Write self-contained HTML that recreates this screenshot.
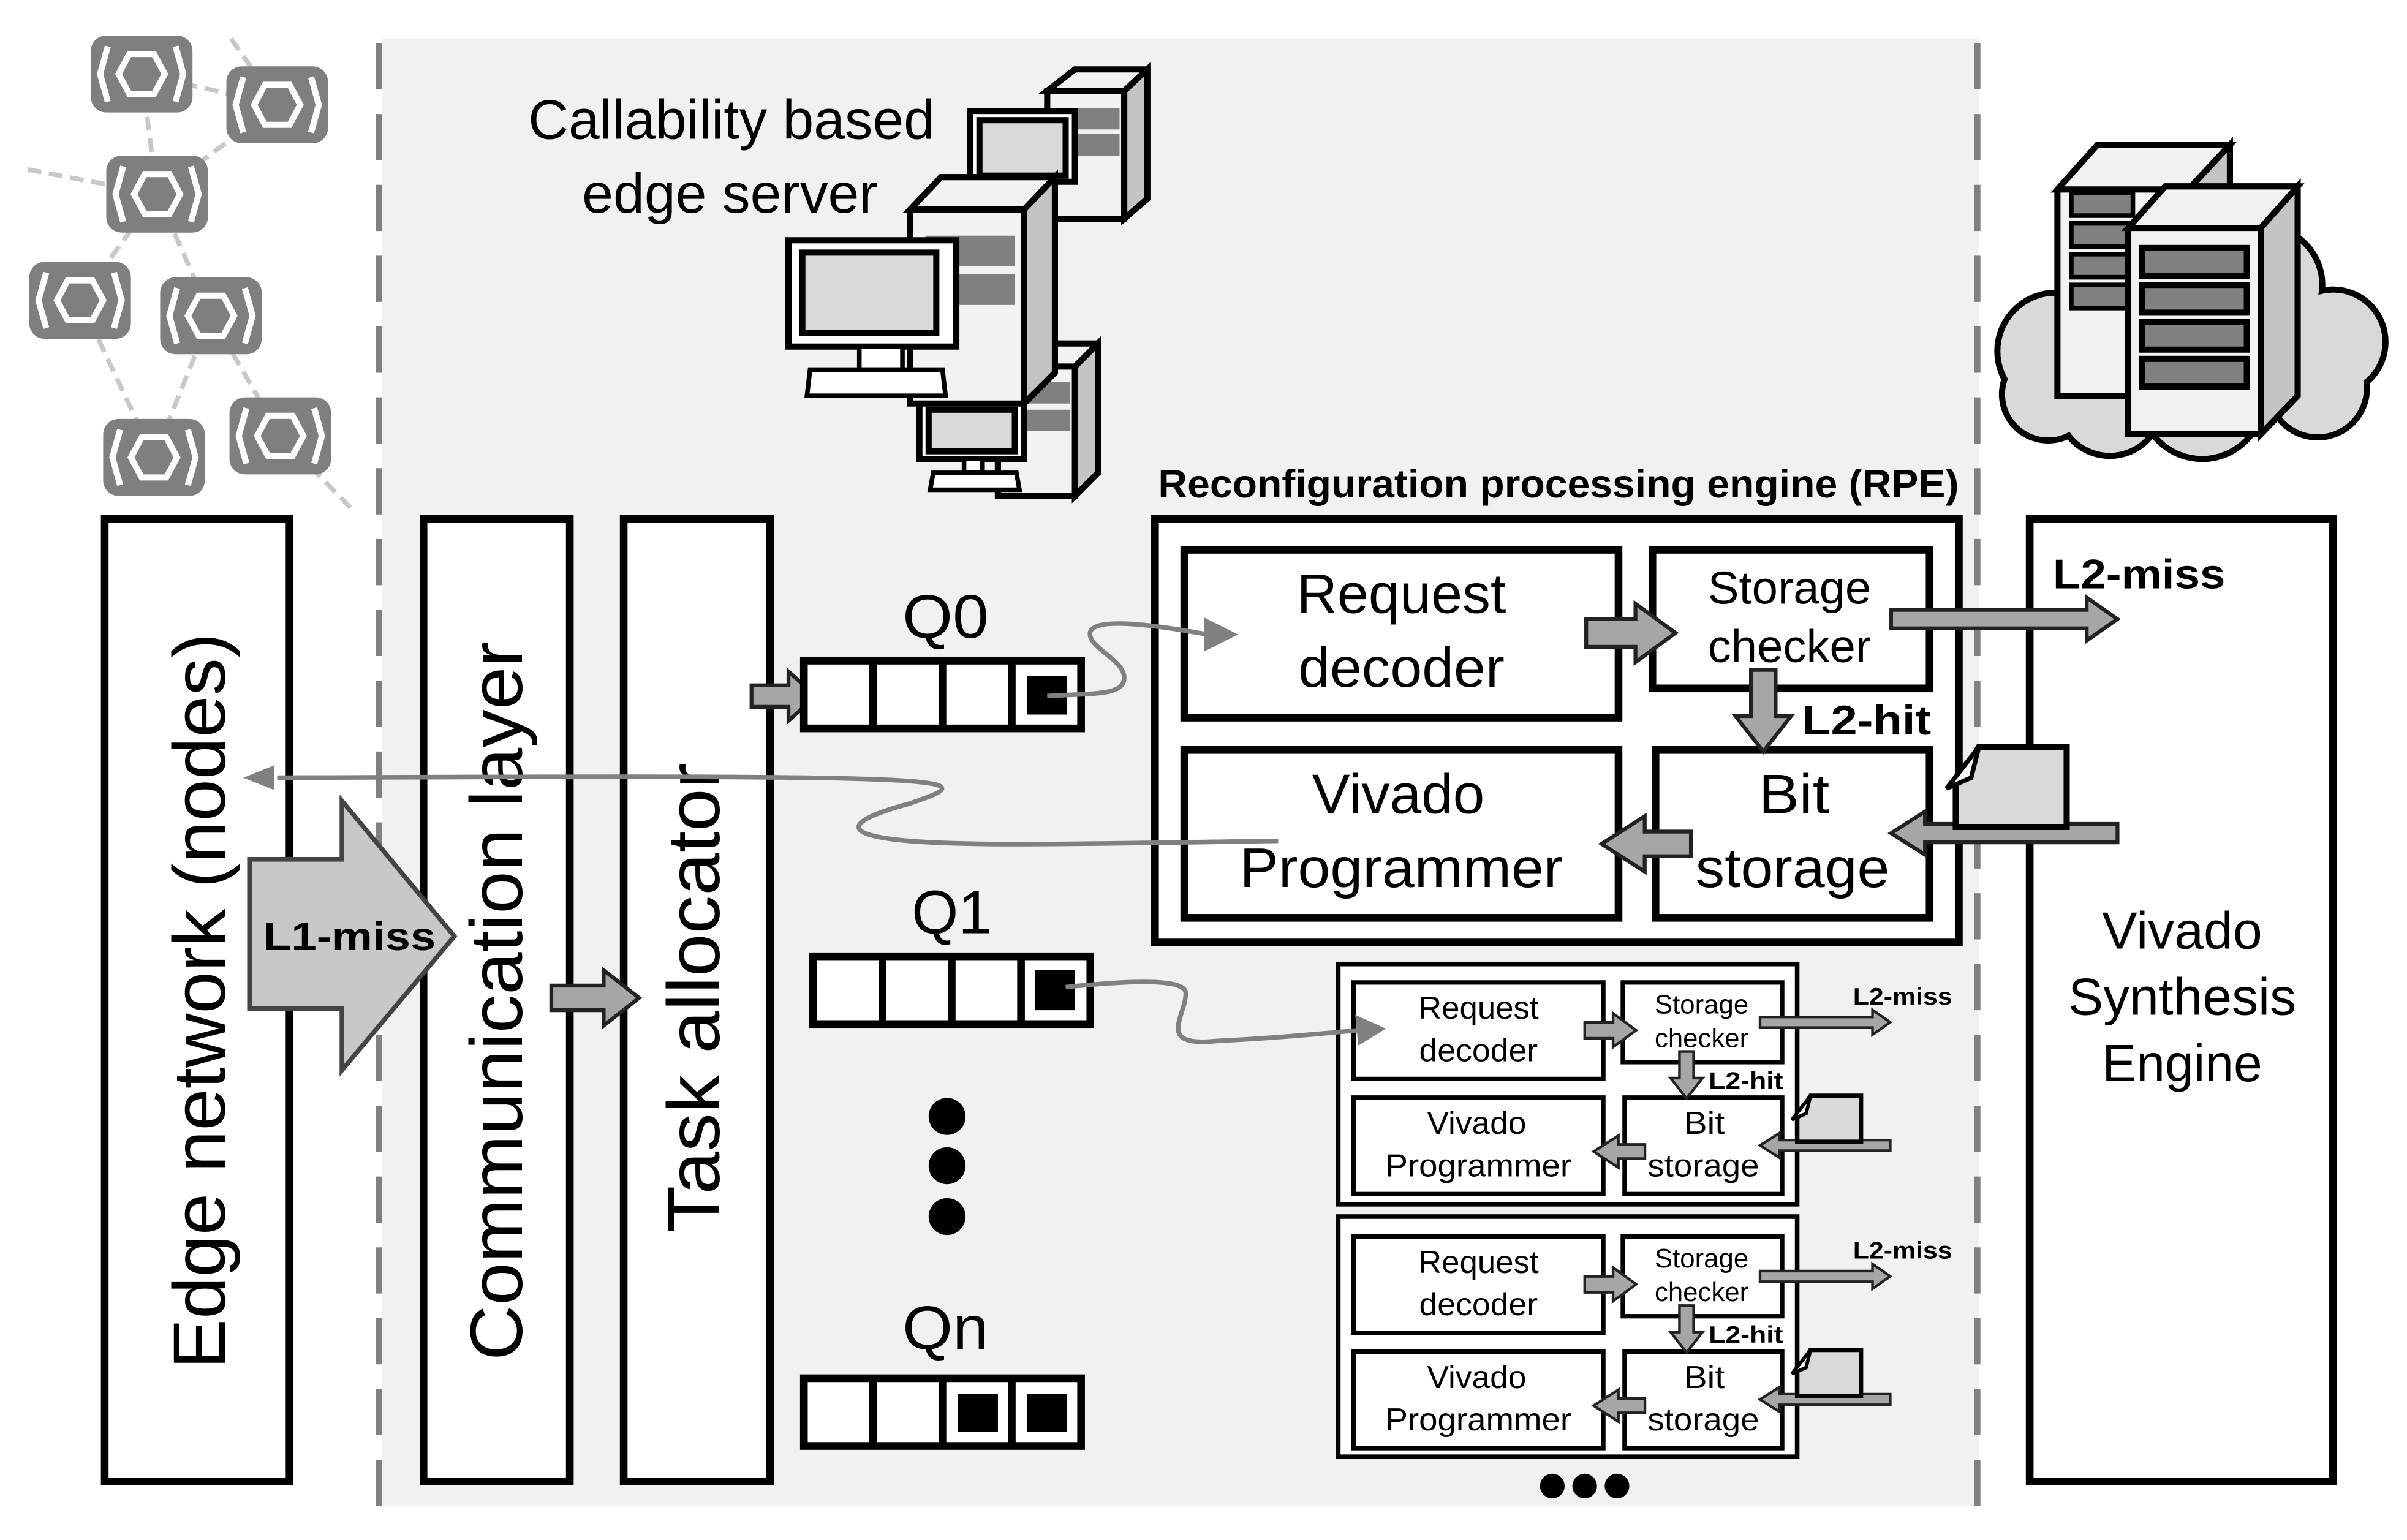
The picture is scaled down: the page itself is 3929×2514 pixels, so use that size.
<!DOCTYPE html>
<html><head><meta charset="utf-8"><style>
html,body{margin:0;padding:0;background:#fff;}
svg{display:block;}
text{font-family:"Liberation Sans",sans-serif;}
</style></head><body>
<svg width="3929" height="2514" viewBox="0 0 1563 1000" xmlns="http://www.w3.org/2000/svg">
<rect x="0" y="0" width="1563" height="1000" fill="#fff"/>
<rect x="248" y="25" width="1037" height="953" fill="#f1f1f1"/>
<line x1="246" y1="28" x2="246" y2="978" stroke="#808080" stroke-width="4" stroke-dasharray="30,16"/>
<line x1="1284" y1="28" x2="1284" y2="978" stroke="#808080" stroke-width="4" stroke-dasharray="30,16"/>

<g stroke="#c8c8c8" stroke-width="3" stroke-dasharray="9,5" fill="none">
<line x1="92" y1="48" x2="102" y2="126"/><line x1="150" y1="25" x2="180" y2="68"/>
<line x1="92" y1="48" x2="180" y2="68"/><line x1="180" y1="68" x2="102" y2="126"/>
<line x1="18" y1="110" x2="102" y2="126"/><line x1="102" y1="126" x2="52" y2="195"/>
<line x1="102" y1="126" x2="137" y2="205"/><line x1="52" y1="195" x2="100" y2="297"/>
<line x1="137" y1="205" x2="100" y2="297"/><line x1="137" y1="205" x2="182" y2="283"/>
<line x1="182" y1="283" x2="228" y2="330"/>
</g>
<g>
<g transform="translate(92,48)"><rect x="-33" y="-25" width="66" height="50" rx="10" fill="#7f7f7f"/><polygon points="-8,-13 8,-13 15,0 8,13 -8,13 -15,0" fill="#7f7f7f" stroke="#fff" stroke-width="4"/><path d="M-22,-18 L-27,0 L-22,18 M22,-18 L27,0 L22,18" stroke="#fff" stroke-width="4" fill="none"/></g>
<g transform="translate(180,68)"><rect x="-33" y="-25" width="66" height="50" rx="10" fill="#7f7f7f"/><polygon points="-8,-13 8,-13 15,0 8,13 -8,13 -15,0" fill="#7f7f7f" stroke="#fff" stroke-width="4"/><path d="M-22,-18 L-27,0 L-22,18 M22,-18 L27,0 L22,18" stroke="#fff" stroke-width="4" fill="none"/></g>
<g transform="translate(102,126)"><rect x="-33" y="-25" width="66" height="50" rx="10" fill="#7f7f7f"/><polygon points="-8,-13 8,-13 15,0 8,13 -8,13 -15,0" fill="#7f7f7f" stroke="#fff" stroke-width="4"/><path d="M-22,-18 L-27,0 L-22,18 M22,-18 L27,0 L22,18" stroke="#fff" stroke-width="4" fill="none"/></g>
<g transform="translate(52,195)"><rect x="-33" y="-25" width="66" height="50" rx="10" fill="#7f7f7f"/><polygon points="-8,-13 8,-13 15,0 8,13 -8,13 -15,0" fill="#7f7f7f" stroke="#fff" stroke-width="4"/><path d="M-22,-18 L-27,0 L-22,18 M22,-18 L27,0 L22,18" stroke="#fff" stroke-width="4" fill="none"/></g>
<g transform="translate(137,205)"><rect x="-33" y="-25" width="66" height="50" rx="10" fill="#7f7f7f"/><polygon points="-8,-13 8,-13 15,0 8,13 -8,13 -15,0" fill="#7f7f7f" stroke="#fff" stroke-width="4"/><path d="M-22,-18 L-27,0 L-22,18 M22,-18 L27,0 L22,18" stroke="#fff" stroke-width="4" fill="none"/></g>
<g transform="translate(100,297)"><rect x="-33" y="-25" width="66" height="50" rx="10" fill="#7f7f7f"/><polygon points="-8,-13 8,-13 15,0 8,13 -8,13 -15,0" fill="#7f7f7f" stroke="#fff" stroke-width="4"/><path d="M-22,-18 L-27,0 L-22,18 M22,-18 L27,0 L22,18" stroke="#fff" stroke-width="4" fill="none"/></g>
<g transform="translate(182,283)"><rect x="-33" y="-25" width="66" height="50" rx="10" fill="#7f7f7f"/><polygon points="-8,-13 8,-13 15,0 8,13 -8,13 -15,0" fill="#7f7f7f" stroke="#fff" stroke-width="4"/><path d="M-22,-18 L-27,0 L-22,18 M22,-18 L27,0 L22,18" stroke="#fff" stroke-width="4" fill="none"/></g>
</g>

<g stroke="#000" stroke-width="4" stroke-linejoin="miter">
<polygon points="698,45 745,45 745,129 730,142 730,59 680,59" fill="#f2f2f2"/>
<polygon points="730,59 745,45 745,129 730,142" fill="#c4c4c4"/>
<rect x="680" y="59" width="50" height="83" fill="#f2f2f2"/>
<rect x="685" y="70" width="42" height="14" fill="#808080" stroke="none"/>
<rect x="685" y="87" width="42" height="14" fill="#808080" stroke="none"/>
<rect x="630" y="72" width="68" height="46" fill="#fff"/>
<rect x="636" y="78" width="56" height="36" fill="#d9d9d9"/>
<polygon points="648,238 665,223 713,223 713,307 698,322 648,322" fill="#f2f2f2"/>
<polygon points="698,238 713,223 713,307 698,322" fill="#c4c4c4"/>
<rect x="648" y="238" width="50" height="84" fill="#f2f2f2"/>
<rect x="665" y="248" width="30" height="14" fill="#808080" stroke="none"/>
<rect x="665" y="266" width="30" height="14" fill="#808080" stroke="none"/>
<rect x="597" y="260" width="68" height="38" fill="#fff"/>
<rect x="603" y="266" width="56" height="27" fill="#d9d9d9"/>
<rect x="626" y="298" width="12" height="9" fill="#fff" stroke-width="3"/>
<polygon points="606,307 660,307 662,318 604,318" fill="#fff" stroke-width="3"/>
<polygon points="591,136 611,115 685,115 685,242 665,262 591,262" fill="#f2f2f2"/>
<polygon points="665,136 685,115 685,242 665,262" fill="#c4c4c4"/>
<polygon points="591,136 611,115 685,115 665,136" fill="#f2f2f2"/>
<rect x="601" y="153" width="58" height="20" fill="#808080" stroke="none"/>
<rect x="601" y="178" width="58" height="20" fill="#808080" stroke="none"/>
<rect x="512" y="156" width="109" height="69" fill="#fff"/>
<rect x="521" y="164" width="87" height="52" fill="#d9d9d9"/>
<rect x="558" y="225" width="28" height="15" fill="#fff" stroke-width="3"/>
<polygon points="526,240 612,240 614,257 524,257" fill="#fff" stroke-width="3"/>
</g>
<text x="475" y="90" font-size="36" text-anchor="middle" textLength="264" lengthAdjust="spacingAndGlyphs">Callability based</text>
<text x="474" y="138" font-size="36" text-anchor="middle" textLength="192" lengthAdjust="spacingAndGlyphs">edge server</text>

<g fill="#d9d9d9">
<g stroke="#000" stroke-width="4">
<circle cx="1335" cy="228" r="38"/><circle cx="1390" cy="195" r="45"/><circle cx="1470" cy="185" r="38"/><circle cx="1515" cy="222" r="34"/><circle cx="1505" cy="252" r="32"/><circle cx="1430" cy="258" r="40"/><circle cx="1370" cy="262" r="34"/><circle cx="1330" cy="256" r="30"/>
</g>
<circle cx="1335" cy="228" r="36"/><circle cx="1390" cy="195" r="43"/><circle cx="1470" cy="185" r="36"/><circle cx="1515" cy="222" r="32"/><circle cx="1505" cy="252" r="30"/><circle cx="1430" cy="258" r="38"/><circle cx="1370" cy="262" r="32"/><circle cx="1330" cy="256" r="28"/>
<rect x="1325" y="200" width="175" height="60"/>
</g>
<g stroke="#000" stroke-width="4">
<polygon points="1336,123 1362,94 1448,94 1448,230 1421,257 1336,257" fill="#f2f2f2"/>
<polygon points="1421,123 1448,94 1448,230 1421,257" fill="#c4c4c4"/>
<polygon points="1336,123 1362,94 1448,94 1421,123" fill="#f2f2f2"/>
<rect x="1345" y="125" width="40" height="15" fill="#808080" stroke-width="3"/>
<rect x="1345" y="145" width="40" height="15" fill="#808080" stroke-width="3"/>
<rect x="1345" y="165" width="40" height="15" fill="#808080" stroke-width="3"/>
<rect x="1345" y="185" width="40" height="15" fill="#808080" stroke-width="3"/>
<polygon points="1382,148 1406,121 1492,121 1492,257 1468,282 1382,282" fill="#f2f2f2"/>
<polygon points="1468,148 1492,121 1492,257 1468,282" fill="#c4c4c4"/>
<polygon points="1382,148 1406,121 1492,121 1468,148" fill="#f2f2f2"/>
<rect x="1391" y="161" width="68" height="18" fill="#808080" stroke-width="4"/>
<rect x="1391" y="185" width="68" height="18" fill="#808080" stroke-width="4"/>
<rect x="1391" y="209" width="68" height="18" fill="#808080" stroke-width="4"/>
<rect x="1391" y="233" width="68" height="18" fill="#808080" stroke-width="4"/>
</g>

<g fill="#fff" stroke="#000" stroke-width="5">
<rect x="68" y="337" width="120" height="625"/>
<rect x="275" y="337" width="95" height="625"/>
<rect x="405" y="337" width="95" height="625"/>
<rect x="1318" y="337" width="197" height="625"/>
<rect x="750" y="337" width="522" height="275"/>
</g>
<text transform="translate(146,650) rotate(-90)" font-size="48" text-anchor="middle" textLength="478" lengthAdjust="spacingAndGlyphs">Edge network (nodes)</text>
<text transform="translate(339,650) rotate(-90)" font-size="48" text-anchor="middle" textLength="467" lengthAdjust="spacingAndGlyphs">Communication layer</text>
<text transform="translate(467,648) rotate(-90)" font-size="48" text-anchor="middle" textLength="305" lengthAdjust="spacingAndGlyphs">Task allocator</text>
<text x="1417" y="616" font-size="34" text-anchor="middle" textLength="104" lengthAdjust="spacingAndGlyphs">Vivado</text>
<text x="1417" y="659" font-size="34" text-anchor="middle" textLength="148" lengthAdjust="spacingAndGlyphs">Synthesis</text>
<text x="1417" y="702" font-size="34" text-anchor="middle" textLength="104" lengthAdjust="spacingAndGlyphs">Engine</text>
<text x="1012" y="323" font-size="26" font-weight="bold" text-anchor="middle" textLength="520" lengthAdjust="spacingAndGlyphs">Reconfiguration processing engine (RPE)</text>

<polygon points="162,558 222,558 222,520 295,608 222,695 222,655 162,655" fill="#c8c8c8" stroke="#444" stroke-width="3"/>
<text x="227" y="617" font-size="26" font-weight="bold" text-anchor="middle" textLength="112" lengthAdjust="spacingAndGlyphs">L1-miss</text>
<polygon points="358,640 392,640 392,630 415,648 392,666 392,656 358,656" fill="#a6a6a6" stroke="#222" stroke-width="2.5"/>
<polygon points="488,445 512,445 512,436 530,452 512,468 512,459 488,459" fill="#a6a6a6" stroke="#222" stroke-width="2.5"/>

<g fill="#fff" stroke="#000" stroke-width="5">
<rect x="522" y="429" width="180" height="44"/>
<line x1="567" y1="429" x2="567" y2="473"/><line x1="612" y1="429" x2="612" y2="473"/><line x1="657" y1="429" x2="657" y2="473"/>
<rect x="528" y="621" width="180" height="44"/>
<line x1="573" y1="621" x2="573" y2="665"/><line x1="618" y1="621" x2="618" y2="665"/><line x1="663" y1="621" x2="663" y2="665"/>
<rect x="522" y="895" width="180" height="44"/>
<line x1="567" y1="895" x2="567" y2="939"/><line x1="612" y1="895" x2="612" y2="939"/><line x1="657" y1="895" x2="657" y2="939"/>
</g>
<rect x="667" y="439" width="26" height="25" fill="#000"/>
<rect x="672" y="630" width="26" height="26" fill="#000"/>
<rect x="622" y="905" width="26" height="25" fill="#000"/>
<rect x="667" y="905" width="26" height="25" fill="#000"/>
<text x="614" y="414" font-size="40" text-anchor="middle" textLength="56" lengthAdjust="spacingAndGlyphs">Q0</text>
<text x="618" y="606" font-size="40" text-anchor="middle" textLength="52" lengthAdjust="spacingAndGlyphs">Q1</text>
<text x="614" y="876" font-size="40" text-anchor="middle" textLength="56" lengthAdjust="spacingAndGlyphs">Qn</text>
<circle cx="615" cy="725" r="12"/><circle cx="615" cy="757" r="12"/><circle cx="615" cy="790" r="12"/>

<g>
<g fill="#fff" stroke="#000" stroke-width="5">
<rect x="769" y="357" width="282" height="109"/><rect x="1073" y="357" width="180" height="90"/>
<rect x="769" y="487" width="282" height="109"/><rect x="1075" y="487" width="178" height="109"/>
</g>
<g fill="#a6a6a6" stroke="#222" stroke-width="2.5">
<polygon points="1030,402 1062,402 1062,392 1088,411 1062,430 1062,420 1030,420"/>
<polygon points="1137,435 1153,435 1153,465 1163,465 1145,488 1127,465 1137,465"/>
<polygon points="1098,540 1068,540 1068,530 1040,548 1068,566 1068,556 1098,556"/>
<polygon points="1228,396 1355,396 1355,388 1375,402 1355,416 1355,408 1228,408"/>
<polygon points="1375,535 1250,535 1250,527 1228,541 1250,555 1250,547 1375,547"/>
</g>
<polygon points="1285,485 1342,485 1342,537 1270,537 1270,510" fill="#d9d9d9" stroke="#000" stroke-width="4"/>
<polygon points="1264,512 1285,485 1280,505" fill="#fff" stroke="#000" stroke-width="3"/>
<text x="910" y="398" font-size="36" text-anchor="middle" textLength="136" lengthAdjust="spacingAndGlyphs">Request</text>
<text x="910" y="446" font-size="36" text-anchor="middle" textLength="134" lengthAdjust="spacingAndGlyphs">decoder</text>
<text x="1162" y="392" font-size="30" text-anchor="middle" textLength="106" lengthAdjust="spacingAndGlyphs">Storage</text>
<text x="1162" y="430" font-size="30" text-anchor="middle" textLength="106" lengthAdjust="spacingAndGlyphs">checker</text>
<text x="908" y="528" font-size="36" text-anchor="middle" textLength="112" lengthAdjust="spacingAndGlyphs">Vivado</text>
<text x="910" y="576" font-size="36" text-anchor="middle" textLength="210" lengthAdjust="spacingAndGlyphs">Programmer</text>
<text x="1165" y="528" font-size="36" text-anchor="middle" textLength="46" lengthAdjust="spacingAndGlyphs">Bit</text>
<text x="1164" y="576" font-size="36" text-anchor="middle" textLength="126" lengthAdjust="spacingAndGlyphs">storage</text>
<text x="1389" y="382" font-size="27" font-weight="bold" text-anchor="middle" textLength="112" lengthAdjust="spacingAndGlyphs">L2-miss</text>
<text x="1212" y="477" font-size="27" font-weight="bold" text-anchor="middle" textLength="84" lengthAdjust="spacingAndGlyphs">L2-hit</text>
</g>

<rect x="869" y="626" width="298" height="156" fill="#fff" stroke="#000" stroke-width="3"/>
<rect x="869" y="790" width="298" height="156" fill="#fff" stroke="#000" stroke-width="3"/>
<g transform="translate(436.8,432.7) scale(0.575)">
<g fill="#fff" stroke="#000" stroke-width="5">
<rect x="769" y="357" width="282" height="109"/><rect x="1073" y="357" width="180" height="90"/>
<rect x="769" y="487" width="282" height="109"/><rect x="1075" y="487" width="178" height="109"/>
</g>
<g fill="#a6a6a6" stroke="#222" stroke-width="3">
<polygon points="1030,402 1062,402 1062,392 1088,411 1062,430 1062,420 1030,420"/>
<polygon points="1137,435 1153,435 1153,465 1163,465 1145,488 1127,465 1137,465"/>
<polygon points="1098,540 1068,540 1068,530 1040,548 1068,566 1068,556 1098,556"/>
<polygon points="1228,396 1355,396 1355,388 1375,402 1355,416 1355,408 1228,408"/>
<polygon points="1375,535 1250,535 1250,527 1228,541 1250,555 1250,547 1375,547"/>
</g>
<polygon points="1285,485 1342,485 1342,537 1270,537 1270,510" fill="#d9d9d9" stroke="#000" stroke-width="5"/>
<polygon points="1264,512 1285,485 1280,505" fill="#fff" stroke="#000" stroke-width="4"/>
<text x="910" y="398" font-size="36" text-anchor="middle" textLength="136" lengthAdjust="spacingAndGlyphs">Request</text>
<text x="910" y="446" font-size="36" text-anchor="middle" textLength="134" lengthAdjust="spacingAndGlyphs">decoder</text>
<text x="1162" y="392" font-size="30" text-anchor="middle" textLength="106" lengthAdjust="spacingAndGlyphs">Storage</text>
<text x="1162" y="430" font-size="30" text-anchor="middle" textLength="106" lengthAdjust="spacingAndGlyphs">checker</text>
<text x="908" y="528" font-size="36" text-anchor="middle" textLength="112" lengthAdjust="spacingAndGlyphs">Vivado</text>
<text x="910" y="576" font-size="36" text-anchor="middle" textLength="210" lengthAdjust="spacingAndGlyphs">Programmer</text>
<text x="1165" y="528" font-size="36" text-anchor="middle" textLength="46" lengthAdjust="spacingAndGlyphs">Bit</text>
<text x="1164" y="576" font-size="36" text-anchor="middle" textLength="126" lengthAdjust="spacingAndGlyphs">storage</text>
<text x="1389" y="382" font-size="27" font-weight="bold" text-anchor="middle" textLength="112" lengthAdjust="spacingAndGlyphs">L2-miss</text>
<text x="1212" y="477" font-size="27" font-weight="bold" text-anchor="middle" textLength="84" lengthAdjust="spacingAndGlyphs">L2-hit</text>
</g>
<g transform="translate(436.8,597.7) scale(0.575)">
<g fill="#fff" stroke="#000" stroke-width="5">
<rect x="769" y="357" width="282" height="109"/><rect x="1073" y="357" width="180" height="90"/>
<rect x="769" y="487" width="282" height="109"/><rect x="1075" y="487" width="178" height="109"/>
</g>
<g fill="#a6a6a6" stroke="#222" stroke-width="3">
<polygon points="1030,402 1062,402 1062,392 1088,411 1062,430 1062,420 1030,420"/>
<polygon points="1137,435 1153,435 1153,465 1163,465 1145,488 1127,465 1137,465"/>
<polygon points="1098,540 1068,540 1068,530 1040,548 1068,566 1068,556 1098,556"/>
<polygon points="1228,396 1355,396 1355,388 1375,402 1355,416 1355,408 1228,408"/>
<polygon points="1375,535 1250,535 1250,527 1228,541 1250,555 1250,547 1375,547"/>
</g>
<polygon points="1285,485 1342,485 1342,537 1270,537 1270,510" fill="#d9d9d9" stroke="#000" stroke-width="5"/>
<polygon points="1264,512 1285,485 1280,505" fill="#fff" stroke="#000" stroke-width="4"/>
<text x="910" y="398" font-size="36" text-anchor="middle" textLength="136" lengthAdjust="spacingAndGlyphs">Request</text>
<text x="910" y="446" font-size="36" text-anchor="middle" textLength="134" lengthAdjust="spacingAndGlyphs">decoder</text>
<text x="1162" y="392" font-size="30" text-anchor="middle" textLength="106" lengthAdjust="spacingAndGlyphs">Storage</text>
<text x="1162" y="430" font-size="30" text-anchor="middle" textLength="106" lengthAdjust="spacingAndGlyphs">checker</text>
<text x="908" y="528" font-size="36" text-anchor="middle" textLength="112" lengthAdjust="spacingAndGlyphs">Vivado</text>
<text x="910" y="576" font-size="36" text-anchor="middle" textLength="210" lengthAdjust="spacingAndGlyphs">Programmer</text>
<text x="1165" y="528" font-size="36" text-anchor="middle" textLength="46" lengthAdjust="spacingAndGlyphs">Bit</text>
<text x="1164" y="576" font-size="36" text-anchor="middle" textLength="126" lengthAdjust="spacingAndGlyphs">storage</text>
<text x="1389" y="382" font-size="27" font-weight="bold" text-anchor="middle" textLength="112" lengthAdjust="spacingAndGlyphs">L2-miss</text>
<text x="1212" y="477" font-size="27" font-weight="bold" text-anchor="middle" textLength="84" lengthAdjust="spacingAndGlyphs">L2-hit</text>
</g>
<circle cx="1008" cy="965" r="8"/><circle cx="1029" cy="965" r="8"/><circle cx="1050" cy="965" r="8"/>

<!-- wavy connectors on top -->
<g fill="none" stroke="#808080" stroke-width="3">
<path d="M680,452 C710,450 730,452 730,440 C730,428 705,420 708,410 C712,402 740,404 784,412"/>
<path d="M830,546 C700,548 620,550 580,545 C540,540 560,530 590,522 C640,505 640,503 180,505"/>
<path d="M692,641 C740,636 770,636 770,645 C770,660 750,680 790,676 C830,674 860,671 882,669"/>
</g>
<polygon points="782,401 804,412 782,423" fill="#808080"/>
<polygon points="178,497 158,505 178,513" fill="#808080"/>
<polygon points="880,659 900,668 882,679" fill="#808080"/>
</svg>
</body></html>
